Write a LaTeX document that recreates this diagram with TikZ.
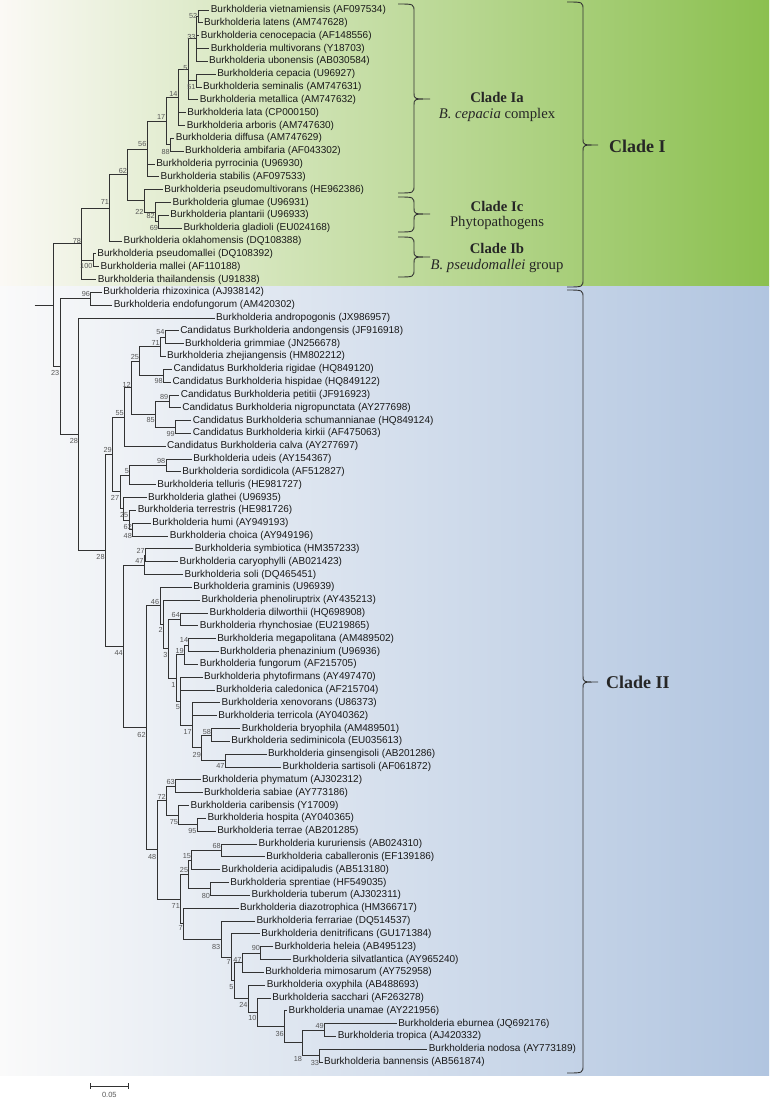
\documentclass[tikz,border=0pt]{standalone}
\usepackage{fontspec}
\setmainfont{Liberation Serif}
\setsansfont{Liberation Sans}
\usetikzlibrary{positioning}

\definecolor{greenL}{RGB}{251,249,245}
\definecolor{greenM}{RGB}{221,232,195}
\definecolor{greenR}{RGB}{139,192,79}
\definecolor{blueL}{RGB}{250,250,250}
\definecolor{blueM}{RGB}{223,229,238}
\definecolor{blueR}{RGB}{177,197,224}
\definecolor{branch}{RGB}{50,50,50}

\tikzset{
  leaf/.style={anchor=west, inner xsep=1.3pt, inner ysep=0pt, font=\sffamily\fontsize{10}{12}\selectfont, text=black!90},
  bs/.style={anchor=east, inner sep=0.6pt, font=\sffamily\fontsize{7.3}{8}\selectfont, text=black!66},
  br/.style={draw=branch, line width=0.8pt},
  cbrace/.style={draw=black!80, line width=0.9pt},
  cladehead/.style={inner sep=0pt, font=\bfseries\fontsize{14.7}{16}\selectfont, text=black!85},
  cladesub/.style={inner sep=0pt, font=\fontsize{14.7}{16}\selectfont, text=black!85},
  cladebig/.style={anchor=west, inner sep=0pt, font=\bfseries\fontsize{18}{20}\selectfont, text=black!85},
}

% curly bracket: ends at x #1, bar at #2, tip at #3, from y #4 to #5, tip at y #6
\newcommand{\cladebrace}[6]{%
  \draw[cbrace] (#1,#4) .. controls (#2,#4) .. (#2,#4+8) -- (#2,#6-6)
    .. controls (#2,#6) .. (#3,#6) .. controls (#2,#6) .. (#2,#6+6)
    -- (#2,#5-8) .. controls (#2,#5) .. (#1,#5);}

\begin{document}
\begin{tikzpicture}[x=1pt, y=-1pt]
\useasboundingbox (0,0) rectangle (769,1102);

% background panels
\fill[left color=greenL, middle color=greenM, right color=greenR] (0,0) rectangle (769,286);
\fill[left color=blueL, middle color=blueM, right color=blueR] (0,286) rectangle (769,1075);

% tree: x in branch units, y in rows
\begin{scope}[x=1.09pt, y=-12.83pt, yshift=2.83pt]
\foreach \row/\tip/\sp/\acc/\kind in {
  1/192/vietnamiensis/AF097534/B, 2/186/latens/AM747628/B,
  3/183/cenocepacia/AF148556/B, 4/192/multivorans/Y18703/B,
  5/190.5/ubonensis/AB030584/B, 6/198/cepacia/U96927/B,
  7/185/seminalis/AM747631/B, 8/182/metallica/AM747632/B,
  9/170.5/lata/CP000150/B, 10/170/arboris/AM747630/B,
  11/160/diffusa/AM747629/B, 12/168.5/ambifaria/AF043302/B,
  13/142/pyrrocinia/U96930/B, 14/146/stabilis/AF097533/B,
  15/149.5/pseudomultivorans/HE962386/B, 16/157/glumae/U96931/B,
  17/155/plantarii/U96933/B, 18/167/gladioli/EU024168/B,
  19/112/oklahomensis/DQ108388/B, 20/88/pseudomallei/DQ108392/B,
  21/91/mallei/AF110188/B, 22/88.5/thailandensis/U91838/B,
  23/93.5/rhizoxinica/AJ938142/B, 24/103/endofungorum/AM420302/B,
  25/197/andropogonis/JX986957/B, 26/164/andongensis/JF916918/C,
  27/168.5/grimmiae/JN256678/B, 28/152/zhejiangensis/HM802212/B,
  29/158/rigidae/HQ849120/C, 30/157/hispidae/HQ849122/C,
  31/164.5/petitii/JF916923/C, 32/166/nigropunctata/AY277698/C,
  33/175.5/schumannianae/HQ849124/C, 34/175.5/kirkii/AF475063/C,
  35/152/calva/AY277697/C, 36/176/udeis/AY154367/B,
  37/166/sordidicola/AF512827/B, 38/143/telluris/HE981727/B,
  39/134.5/glathei/U96935/B, 40/125/terrestris/HE981726/B,
  41/138.5/humi/AY949193/B, 42/154.5/choica/AY949196/B,
  43/177.5/symbiotica/HM357233/B, 44/163.5/caryophylli/AB021423/B,
  45/168/soli/DQ465451/B, 46/176/graminis/U96939/B,
  47/183.5/phenoliruptrix/AY435213/B, 48/191/dilworthii/HQ698908/B,
  49/182/rhynchosiae/EU219865/B, 50/198/megapolitana/AM489502/B,
  51/200.5/phenazinium/U96936/B, 52/182/fungorum/AF215705/B,
  53/186/phytofirmans/AY497470/B, 54/197/caledonica/AF215704/B,
  55/202/xenovorans/U86373/B, 56/199/terricola/AY040362/B,
  57/220.5/bryophila/AM489501/B, 58/211/sediminicola/EU035613/B,
  59/244.5/ginsengisoli/AB201286/B, 60/258/sartisoli/AF061872/B,
  61/184/phymatum/AJ302312/B, 62/186/sabiae/AY773186/B,
  63/173.5/caribensis/Y17009/B, 64/189/hospita/AY040365/B,
  65/198/terrae/AB201285/B, 66/236/kururiensis/AB024310/B,
  67/243/caballeronis/EF139186/B, 68/202/acidipaludis/AB513180/B,
  69/210/sprentiae/HF549035/B, 70/229.5/tuberum/AJ302311/B,
  71/219/diazotrophica/HM366717/B, 72/234/ferrariae/DQ514537/B,
  73/238.5/denitrificans/GU171384/B, 74/250.5/heleia/AB495123/B,
  75/267/silvatlantica/AY965240/B, 76/242/mimosarum/AY752958/B,
  77/243.5/oxyphila/AB488693/B, 78/248.5/sacchari/AF263278/B,
  79/263.5/unamae/AY221956/B, 80/364/eburnea/JQ692176/B,
  81/308.5/tropica/AJ420332/B, 82/392/nodosa/AY773189/B,
  83/296/bannensis/AB561874/B}
  \node[leaf] (\sp) at (\tip,\row) {\if\kind CCandidatus\ \fi Burkholderia \sp\ (\acc)};

% internal nodes
\foreach \nd/\x/\row in {
  a52/181.7/1.5, a33/180/3.25, a51/180/6.5, a5/172.7/5.625, a14/163.5/7.81,
  a88/156.5/11.5, a17/152.3/9.66, a56/135/11.83, a69/145.7/17.5, a82/142.7/16.75,
  a22/132.3/15.875, a62/117.3/13.85, a71/100.7/16.43, a100/85.5/20.5, a78/75/19.2,
  root/49.3/23.99, stub/31.7/23.99,
  b23/55/28.78, b96/83.3/23.5, b28a/72.3/34.06, b28b/96.7/43.12, b29/103.3/35.64,
  b55/114.3/32.72, b12/120.7/30.44, b25a/128.3/28.375, b71/147.3/27.25, b54/151.7/26.5,
  b98a/150/29.5, b85/142.7/32.5, b89/155/31.5, b99/161/33.5, b27/110/38.56,
  b5/119/37.25, b98b/152.3/36.5, bgl/113.3/39.875, b25b/118.3/40.75, b62/121.7/41.5,
  b44/113.3/50.6, b47a/132.3/44.25, b27b/133.5/43.5, b62d/134.3/56.95, b46/146.7/47.445,
  b2/150/48.89, b3/154.3/50.78, b64/165.7/48.5, b1/161.7/53.06, b19/169.3/51.25,
  b14/173.3/50.5, b5c/165.7/54.875, b17/176.7/56.75, b29b/185/58.5, b58/194.3/57.5,
  b47b/206.7/59.5, b48/144/66.46, b72/152.7/62.625, b63/161/61.5, b75/164/63.75,
  b95/181/64.5, b71c/165.7/70.29, b25c/173.3/68.375, b15/176/67.25, b68/203.3/66.5,
  b80/193.3/69.5, b7/168.3/72.2, b83/202.7/73.41, b7b/212.3/74.83, b5d/215/76.66,
  b47c/222.3/75.25, b90/239.3/74.5, b24/227.7/78.06, b10/236/79.125, b36/261/80.25,
  b18/277.7/81.5, b49/297.7/80.5, b33/293.3/82.5}
  \coordinate (\nd) at (\x,\row);

% branches
\draw[br] (stub) -- (root);
\foreach \p/\c in {
  a52/vietnamiensis, a52/latens, a33/a52, a33/cenocepacia, a33/multivorans, a33/ubonensis,
  a51/cepacia, a51/seminalis, a5/a33, a5/a51, a5/metallica, a14/a5, a14/lata, a14/arboris,
  a88/diffusa, a88/ambifaria, a17/a14, a17/a88, a56/a17, a56/pyrrocinia, a56/stabilis,
  a69/plantarii, a69/gladioli, a82/glumae, a82/a69, a22/pseudomultivorans, a22/a82,
  a62/a56, a62/a22, a71/a62, a71/oklahomensis, a100/pseudomallei, a100/mallei,
  a78/a71, a78/a100, a78/thailandensis, root/a78, root/b23,
  b23/b96, b23/b28a, b96/rhizoxinica, b96/endofungorum, b28a/andropogonis, b28a/b28b,
  b28b/b29, b28b/b44, b29/b55, b29/b27, b55/b12, b55/calva, b12/b25a, b12/b85,
  b25a/b71, b25a/b98a, b71/b54, b71/zhejiangensis, b54/andongensis, b54/grimmiae,
  b98a/rigidae, b98a/hispidae, b85/b89, b85/b99, b89/petitii, b89/nigropunctata,
  b99/schumannianae, b99/kirkii, b27/b5, b27/bgl, b5/b98b, b5/telluris,
  b98b/udeis, b98b/sordidicola, bgl/glathei, bgl/b25b, b25b/terrestris, b25b/b62,
  b62/humi, b62/choica, b44/b47a, b44/b62d, b47a/b27b, b47a/soli,
  b27b/symbiotica, b27b/caryophylli, b62d/b46, b62d/b48, b46/graminis, b46/b2,
  b2/phenoliruptrix, b2/b3, b3/b64, b3/b1, b64/dilworthii, b64/rhynchosiae,
  b1/b19, b1/b5c, b19/b14, b19/fungorum, b14/megapolitana, b14/phenazinium,
  b5c/phytofirmans, b5c/caledonica, b5c/b17, b17/xenovorans, b17/terricola, b17/b29b,
  b29b/b58, b29b/b47b, b58/bryophila, b58/sediminicola, b47b/ginsengisoli, b47b/sartisoli,
  b48/b72, b48/b71c, b72/b63, b72/b75, b63/phymatum, b63/sabiae,
  b75/caribensis, b75/b95, b95/hospita, b95/terrae, b71c/b25c, b71c/b7,
  b25c/b15, b25c/b80, b15/b68, b15/acidipaludis, b68/kururiensis, b68/caballeronis,
  b80/sprentiae, b80/tuberum, b7/diazotrophica, b7/b83, b83/ferrariae, b83/b7b,
  b7b/denitrificans, b7b/b5d, b5d/b47c, b5d/b24, b47c/b90, b47c/mimosarum,
  b90/heleia, b90/silvatlantica, b24/oxyphila, b24/b10, b10/sacchari, b10/b36,
  b36/unamae, b36/b18, b18/b49, b18/b33, b49/eburnea, b49/tropica,
  b33/nodosa, b33/bannensis}
  \draw[br] (\p) |- (\c);

% bootstrap values
\foreach \nd/\v/\u in {
  a52/52/0, a33/33/2, a51/51/-6, a5/5/1, a14/14/3, a88/88/-7, a17/17/4, a56/56/5,
  a69/69/-6, a82/82/-3.5, a22/22/-11.5, a62/62/4, a71/71/5.7, a100/100/-5.5, a78/78/2.6,
  b96/96/5, b54/54/5.5, b71/71/3.5, b98a/98/-5.3, b25a/25/4.6, b89/89/4.6, b99/99/-7.3,
  b85/85/-5.8, b12/12/3, b55/55/3.7, b98b/98/4.5, b5/5/4, b62/62/3, b62/48/-6.3,
  b25b/25/5, b27/27/-6, b29/29/4.4, b27b/27/4.6, b47a/47/4, b64/64/4.5, b14/14/5,
  b19/19/3.7, b58/58/2.6, b47b/47/-5.4, b29b/29/-7.2, b17/17/-7, b5c/5/-6.3, b1/1/-7,
  b3/3/-6.3, b2/2/-5.6, b46/46/4.3, b63/63/4.5, b95/95/-6, b75/75/-6.5, b72/72/4,
  b68/68/4.4, b15/15/4, b80/80/-6.8, b25c/25/4.5, b90/90/5.4, b47c/47/2.7, b33/33/-7,
  b49/49/4.3, b18/18/-16, b36/36/-7, b10/10/-5.6, b24/24/-6.2, b5d/5/-6, b7b/7/-5,
  b83/83/-7.5, b7/7/-4.6, b71c/71/-6.6, b48/48/-7, b62d/62/-7, b44/44/-7,
  b28b/28/-6.3, b28a/28/-7, b23/23/-6.3}
  \node[bs, yshift=\u*1pt] at (\nd) {\v};
\end{scope}

% clade brackets
\cladebrace{398}{414}{430}{4}{193}{99}
\cladebrace{398}{414}{430}{197}{232}{214}
\cladebrace{398}{414}{430}{237}{277}{257}
\cladebrace{567}{583}{598}{2}{287}{145}
\cladebrace{567}{583}{598}{290}{1073}{682}

\node[cladehead] (iaT) at (497,97) {Clade Ia};
\node[cladesub] (iaS) at (497,115) {\textit{B. cepacia} complex};
\node[cladehead] (icT) at (497,206) {Clade Ic};
\node[cladesub] (icS) at (497,223) {Phytopathogens};
\node[cladehead] (ibT) at (497,248) {Clade Ib};
\node[cladesub] (ibS) at (497,266) {\textit{B. pseudomallei} group};
\node[cladebig] (cI) at (609,146) {Clade I};
\node[cladebig] (cII) at (606,682) {Clade II};

% scale bar
\coordinate (sbL) at (90.8,1086);
\coordinate (sbR) at (127.9,1086);
\coordinate (sbM) at (109.35,1086);
\draw[br] (sbL) -- (sbR);
\draw[br] ([yshift=3pt]sbL) -- ([yshift=-3pt]sbL);
\draw[br] ([yshift=3pt]sbR) -- ([yshift=-3pt]sbR);
\node[bs, anchor=north, below=5pt of sbM, font=\sffamily\fontsize{7.5}{8}\selectfont] (sbT) {0.05};
\end{tikzpicture}
\end{document}
